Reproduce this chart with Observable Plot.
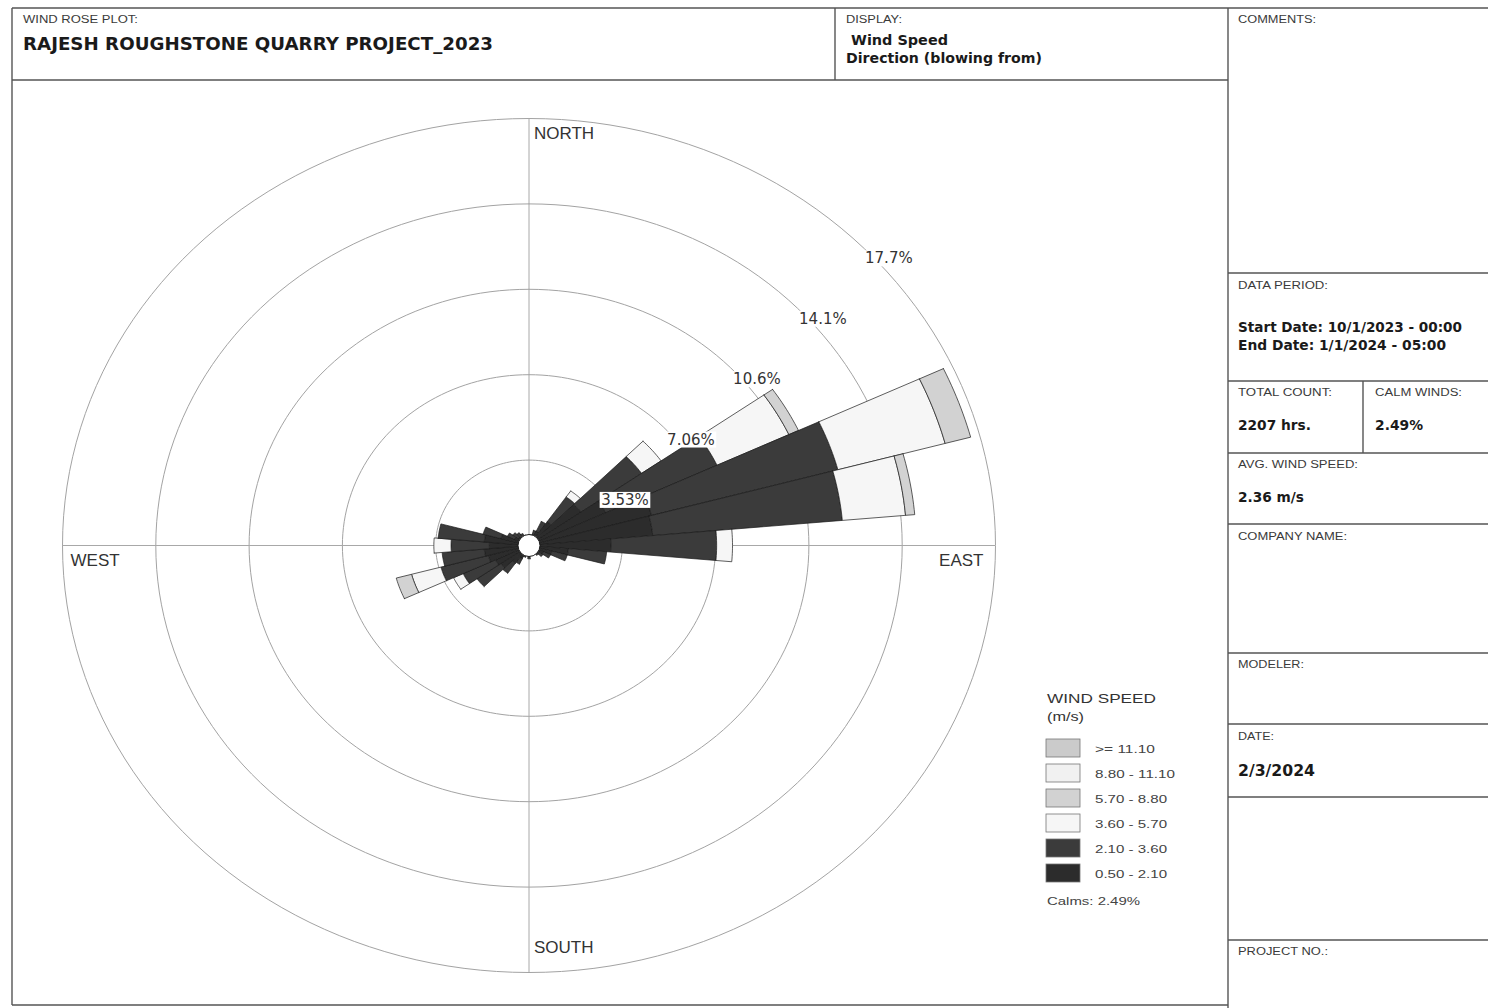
<!DOCTYPE html>
<html>
<head>
<meta charset="utf-8">
<script src="https://cdn.jsdelivr.net/npm/d3@7"></script>
<script src="https://cdn.jsdelivr.net/npm/@observablehq/plot@0.6"></script>
<style>
  body { margin: 0; background: #fff; }
  #page { position: relative; width: 1488px; height: 1008px; overflow: hidden; background: #fff; }
  #page > svg { position: absolute; left: 0; top: 0; }
</style>
</head>
<body>
<div id="page"></div>
<script>
// ---- Wind rose data: frequency (% of hours) per 10° direction sector (blowing from) ----
const directions = d3.range(0, 360, 10);
const speedBins = ["0.50 - 2.10", "2.10 - 3.60", "3.60 - 5.70", "5.70 - 8.80", "8.80 - 11.10", ">= 11.10"];
const binColors = ["#2c2c2c", "#3b3b3b", "#f6f6f6", "#d2d2d2", "#f1f1f1", "#cbcbcb"];

//                0     10    20    30    40    50    60    70    80    90   100   110   120   130   140   150   160   170   180   190   200   210   220   230   240   250   260   270   280   290   300   310   320   330   340   350
const freq050_210 = [0.35, 0.35, 0.45, 0.65, 1.20, 2.40, 3.20, 4.80, 4.70, 3.10, 1.50, 0.90, 0.60, 0.45, 0.40, 0.35, 0.30, 0.30, 0.40, 0.35, 0.40, 0.60, 0.90, 1.30, 1.40, 1.60, 1.70, 1.50, 1.70, 1.10, 0.60, 0.50, 0.45, 0.40, 0.35, 0.30];
const freq210_360 = [0.05, 0.10, 0.20, 0.45, 1.25, 2.80, 4.65, 7.30, 7.20, 4.00, 1.45, 0.60, 0.30, 0.20, 0.10, 0.05, 0.05, 0.05, 0.15, 0.05, 0.10, 0.25, 0.50, 1.10, 1.35, 1.85, 1.60, 1.45, 1.75, 0.70, 0.30, 0.25, 0.20, 0.15, 0.10, 0.05];
const freq360_570 = [0, 0, 0, 0, 0.30, 0.90, 3.00, 4.20, 2.40, 0.60, 0, 0, 0, 0, 0, 0, 0, 0, 0, 0, 0, 0, 0, 0, 0.40, 1.15, 0, 0.65, 0, 0, 0, 0, 0, 0, 0, 0];
const freq570_880 = [0, 0, 0, 0, 0, 0, 0.40, 1.00, 0.35, 0, 0, 0, 0, 0, 0, 0, 0, 0, 0, 0, 0, 0, 0, 0, 0, 0.60, 0, 0, 0, 0, 0, 0, 0, 0, 0, 0];
const freq880_1110 = directions.map(() => 0);
const freq1110_up = directions.map(() => 0);
const seriesByBin = [freq050_210, freq210_360, freq360_570, freq570_880, freq880_1110, freq1110_up];

// Ring spacing and labels
const ringValues = [3.53, 7.06, 10.59, 14.12, 17.65];
const ringLabels = ["3.53%", "7.06%", "10.6%", "14.1%", "17.7%"];
const calmPercent = "2.49%";

// ---- Geometry helpers (compass degrees, clockwise from north) ----
const R = ringValues[ringValues.length - 1];
const rad = (deg) => deg * Math.PI / 180;
const polar = (r, deg) => [r * Math.sin(rad(deg)), r * Math.cos(rad(deg))];
const halfSector = 5;

// Stacked segments: each speed bin sits on top of the lower ones
const segments = directions.flatMap((dir, i) => {
  let r0 = 0;
  return speedBins.map((bin, j) => {
    const v = seriesByBin[j][i];
    const s = {dir, bin, r0, r1: r0 + v};
    r0 += v;
    return s;
  }).filter((s) => s.r1 > s.r0);
});

const steps = 12;
const petalPoints = segments.flatMap((s, k) => {
  const pts = [];
  for (let t = 0; t <= steps; t++) pts.push(polar(s.r1, s.dir - halfSector + (2 * halfSector * t) / steps));
  if (s.r0 > 0) {
    for (let t = steps; t >= 0; t--) pts.push(polar(s.r0, s.dir - halfSector + (2 * halfSector * t) / steps));
  } else {
    pts.push([0, 0]);
  }
  pts.push(pts[0]);
  return pts.map(([x, y]) => ({id: k, bin: s.bin, x, y}));
});

const ringPoints = ringValues.flatMap((r, k) =>
  d3.range(0, 361, 2).map((a) => {
    const [x, y] = polar(r, a);
    return {ring: k, x, y};
  })
);

const page = d3.select("#page");

// ---- Report frame (header, side panel, legend) ----
const frame = page.append("svg").attr("width", 1488).attr("height", 1008);
const lineColor = "#555";
const seg = (x1, y1, x2, y2, w = 1.4) =>
  frame.append("line").attr("x1", x1).attr("y1", y1).attr("x2", x2).attr("y2", y2)
    .attr("stroke", lineColor).attr("stroke-width", w);

seg(12, 8, 1488, 8);
seg(12, 8, 12, 1005);
seg(12, 1005, 1228, 1005);
seg(1228, 8, 1228, 1008);
seg(12, 80, 1228, 80);
seg(835, 8, 835, 80);
[273, 381, 453, 524, 653, 724, 797, 940].forEach((y) => seg(1228, y, 1488, y));
seg(1363, 381, 1363, 453);

function label(text, x, y, {size = 10, weight = "normal", family = "Liberation Sans", width = null, fill = "#3a3a3a"} = {}) {
  const t = frame.append("text").attr("x", x).attr("y", y)
    .attr("font-family", family).attr("font-size", size).attr("font-weight", weight)
    .attr("fill", fill).text(text);
  if (width) t.attr("textLength", width).attr("lengthAdjust", "spacingAndGlyphs");
  return t;
}

// header
label("WIND ROSE PLOT:", 23, 23, {width: 115});
label("RAJESH ROUGHSTONE QUARRY PROJECT_2023", 23, 50, {size: 18, weight: "bold", family: "DejaVu Sans", width: 470, fill: "#1a1a1a"});
label("DISPLAY:", 846, 23, {width: 56});
label("Wind Speed", 851, 45, {size: 14, weight: "bold", family: "DejaVu Sans", width: 97, fill: "#1a1a1a"});
label("Direction (blowing from)", 846, 63, {size: 14, weight: "bold", family: "DejaVu Sans", width: 196, fill: "#1a1a1a"});

// side panel
const bold = {size: 13.5, weight: "bold", family: "DejaVu Sans", fill: "#1a1a1a"};
label("COMMENTS:", 1238, 23, {width: 78});
label("DATA PERIOD:", 1238, 289, {width: 90});
label("Start Date: 10/1/2023 - 00:00", 1238, 332, {...bold, width: 224});
label("End Date: 1/1/2024 - 05:00", 1238, 350, {...bold, width: 208});
label("TOTAL COUNT:", 1238, 396, {width: 94});
label("CALM WINDS:", 1375, 396, {width: 87});
label("2207 hrs.", 1238, 430, {...bold, width: 73});
label(calmPercent, 1375, 430, {...bold, width: 48});
label("AVG. WIND SPEED:", 1238, 468, {width: 120});
label("2.36 m/s", 1238, 502, {...bold, width: 66});
label("COMPANY NAME:", 1238, 540, {width: 109});
label("MODELER:", 1238, 668, {width: 66});
label("DATE:", 1238, 740, {width: 36});
label("2/3/2024", 1238, 776, {...bold, size: 16, width: 77});
label("PROJECT NO.:", 1238, 955, {width: 90});

// legend
label("WIND SPEED", 1047, 703, {size: 13, width: 109, fill: "#333"});
label("(m/s)", 1047, 721, {size: 13, width: 37, fill: "#333"});
const legendRows = speedBins.map((bin, j) => ({bin, color: binColors[j]})).reverse();
const labelWidths = {">= 11.10": 60, "8.80 - 11.10": 80};
legendRows.forEach((row, i) => {
  const cy = 748 + i * 25;
  frame.append("rect").attr("x", 1046).attr("y", cy - 9).attr("width", 34).attr("height", 18)
    .attr("fill", row.color).attr("stroke", "#777").attr("stroke-width", 0.8);
  label(row.bin, 1095, cy + 4.5, {size: 11.5, width: labelWidths[row.bin] ?? 72, fill: "#444"});
});
label(`Calms: ${calmPercent}`, 1047, 905, {size: 11.5, width: 93, fill: "#444"});

// ---- Wind rose ----
const compassText = {fontFamily: "Liberation Sans", fontSize: 17, fill: "#333"};
const rose = Plot.plot({
  width: 1010,
  height: 990,
  marginLeft: 62,
  marginRight: 15,
  marginTop: 118,
  marginBottom: 18,
  x: {domain: [-R, R], axis: null},
  y: {domain: [-R, R], axis: null},
  color: {type: "ordinal", domain: speedBins, range: binColors},
  style: {background: "transparent", overflow: "visible"},
  marks: [
    Plot.line(ringPoints, {x: "x", y: "y", z: "ring", stroke: "#a3a3a3", strokeWidth: 1}),
    Plot.ruleX([0], {y1: -R, y2: R, stroke: "#a8a8a8", strokeWidth: 1}),
    Plot.ruleY([0], {x1: -R, x2: R, stroke: "#a8a8a8", strokeWidth: 1}),
    Plot.line(petalPoints, {x: "x", y: "y", z: "id", fill: "bin", stroke: "#1a1a1a", strokeWidth: 0.7, strokeLinejoin: "miter", curve: "linear"}),
    Plot.dot([{x: 0, y: 0}], {x: "x", y: "y", r: 11, fill: "white", stroke: "#1a1a1a", strokeWidth: 1}),
    Plot.text(ringValues, {
      x: (v) => v * Math.SQRT1_2, y: (v) => v * Math.SQRT1_2,
      text: (v, i) => ringLabels[i], dx: 30, dy: 15,
      fontFamily: "DejaVu Sans", fontSize: 15, fill: "#333"
    }),
    Plot.text(["NORTH"], {x: 0, y: R, text: (d) => d, dx: 5, dy: 15, textAnchor: "start", ...compassText}),
    Plot.text(["SOUTH"], {x: 0, y: -R, text: (d) => d, dx: 5, dy: -25, textAnchor: "start", ...compassText}),
    Plot.text(["WEST"], {x: -R, y: 0, text: (d) => d, dx: 8, dy: 15, textAnchor: "start", ...compassText}),
    Plot.text(["EAST"], {x: R, y: 0, text: (d) => d, dx: -12, dy: 15, textAnchor: "end", ...compassText})
  ]
});
page.node().appendChild(rose);

// white label boxes behind the ring percentages (first text mark)
const ringGroup = d3.select(rose).selectAll("g[aria-label='text']").filter((d, i) => i === 0);
ringGroup.selectAll("text").each(function () {
  const node = this;
  const b = node.getBBox();
  d3.select(node.parentNode).insert("rect", () => node)
    .attr("x", b.x - 1.5).attr("y", b.y + 1).attr("width", b.width + 3).attr("height", b.height - 2)
    .attr("transform", node.getAttribute("transform"))
    .attr("fill", "white");
});
</script>
</body>
</html>
